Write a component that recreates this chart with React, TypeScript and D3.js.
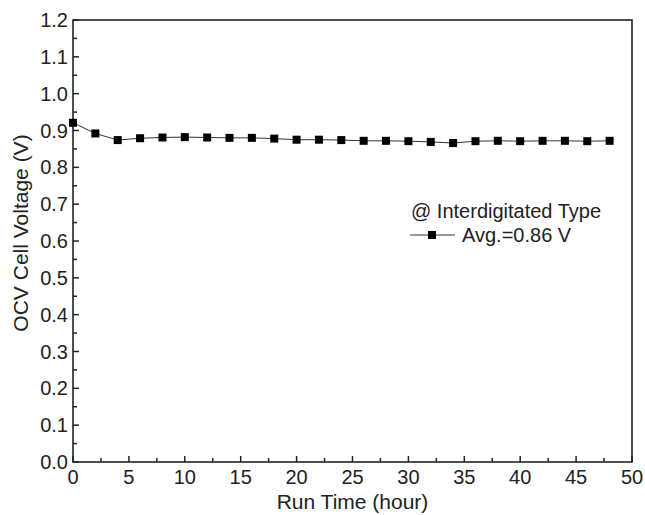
import React from "react";
import * as d3 from "d3";

// run time (hour) and OCV (V)
const hours = [0, 2, 4, 6, 8, 10, 12, 14, 16, 18, 20, 22, 24, 26, 28, 30, 32, 34, 36, 38, 40, 42, 44, 46, 48];
const ocv = [
  0.921, 0.892, 0.874, 0.879, 0.881, 0.882, 0.881, 0.88, 0.88, 0.878, 0.875, 0.875, 0.874,
  0.872, 0.872, 0.871, 0.869, 0.866, 0.871, 0.872, 0.871, 0.872, 0.872, 0.871, 0.872,
];
const xTicks = [0, 5, 10, 15, 20, 25, 30, 35, 40, 45, 50];
const yTicks = [0, 0.1, 0.2, 0.3, 0.4, 0.5, 0.6, 0.7, 0.8, 0.9, 1.0, 1.1, 1.2];
const legendTitle = "@ Interdigitated Type";
const seriesName = "Avg.=0.86 V";

export default function App() {
  const W = 645;
  const H = 515;
  const m = { left: 73, right: 632, top: 20, bottom: 462 };
  const font = "'Liberation Sans', Arial, sans-serif";

  const x = d3.scaleLinear().domain([0, 50]).range([m.left, m.right]);
  const y = d3.scaleLinear().domain([0, 1.2]).range([m.bottom, m.top]);

  const pts = hours.map((h, i) => [h, ocv[i]] as [number, number]);
  const line = d3
    .line<[number, number]>()
    .x((d) => x(d[0]))
    .y((d) => y(d[1]));

  const xMinor = d3.range(2.5, 50, 5);
  const yMinor = d3.range(0.05, 1.2, 0.1);
  const ms = 8;

  return (
    <svg
      width={W}
      height={H}
      style={{ position: "absolute", left: 0, top: 0, background: "#fff" }}
      fontFamily={font}
    >
      {/* ticks, inward */}
      <g stroke="#222" strokeWidth={1.5}>
        {xTicks.map((t) => (
          <line key={"xt" + t} x1={x(t)} x2={x(t)} y1={m.bottom} y2={m.bottom - 6} />
        ))}
        {xMinor.map((t) => (
          <line key={"xm" + t} x1={x(t)} x2={x(t)} y1={m.bottom} y2={m.bottom - 4} />
        ))}
        {yTicks.map((t) => (
          <line key={"yt" + t} x1={m.left} x2={m.left + 6} y1={y(t)} y2={y(t)} />
        ))}
        {yMinor.map((t) => (
          <line key={"ym" + t} x1={m.left} x2={m.left + 4} y1={y(t)} y2={y(t)} />
        ))}
      </g>
      <rect
        x={m.left}
        y={m.top}
        width={m.right - m.left}
        height={m.bottom - m.top}
        fill="none"
        stroke="#222"
        strokeWidth={1.6}
      />

      {/* tick labels */}
      <g fontSize={20} fill="#222">
        {xTicks.map((t) => (
          <text key={"xl" + t} x={x(t)} y={m.bottom + 22} textAnchor="middle">
            {t}
          </text>
        ))}
        {yTicks.map((t) => (
          <text key={"yl" + t} x={m.left - 5} y={y(t)} dy="0.35em" textAnchor="end">
            {d3.format(".1f")(t)}
          </text>
        ))}
      </g>

      {/* axis titles */}
      <text x={(m.left + m.right) / 2} y={509} textAnchor="middle" fontSize={21} fill="#222">
        Run Time (hour)
      </text>
      <text
        transform={`translate(28,${(m.top + m.bottom) / 2 - 8}) rotate(-90)`}
        textAnchor="middle"
        fontSize={21}
        fill="#222"
      >
        OCV Cell Voltage (V)
      </text>

      {/* series */}
      <path d={line(pts) ?? ""} fill="none" stroke="#333" strokeWidth={1} />
      {pts.map((d, i) => (
        <rect key={"p" + i} x={x(d[0]) - ms / 2} y={y(d[1]) - ms / 2} width={ms} height={ms} fill="#000" />
      ))}

      {/* legend */}
      <text x={411} y={218} fontSize={20} fill="#222">
        {legendTitle}
      </text>
      <line x1={410} x2={455} y1={235} y2={235} stroke="#333" strokeWidth={1} />
      <rect x={432 - ms / 2} y={235 - ms / 2} width={ms} height={ms} fill="#000" />
      <text x={462} y={242} fontSize={20} fill="#222">
        {seriesName}
      </text>
    </svg>
  );
}
